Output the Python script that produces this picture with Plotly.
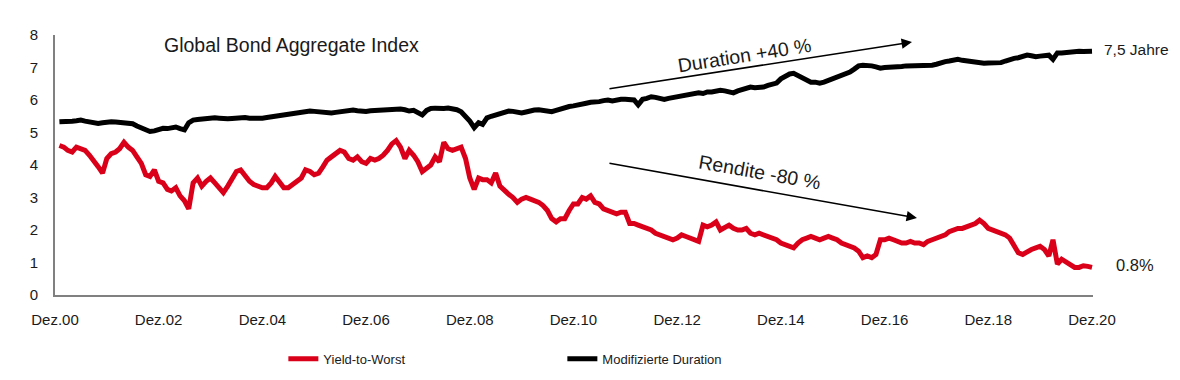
import pandas as pd
import plotly.graph_objects as go

# Monthly values, Jan 2001 .. Dec 2020
yield_to_worst = [
    4.6, 4.55, 4.45, 4.4, 4.55, 4.5, 4.45, 4.3, 4.15, 3.95, 3.75, 4.2,
    4.35, 4.4, 4.5, 4.7, 4.55, 4.45, 4.25, 4.05, 3.7, 3.65, 3.85, 3.5,
    3.45, 3.25, 3.2, 3.3, 3.05, 2.9, 2.65, 3.45, 3.6, 3.35, 3.5, 3.6,
    3.45, 3.3, 3.15, 3.35, 3.55, 3.8, 3.85, 3.65, 3.5, 3.4, 3.35, 3.3,
    3.3, 3.45, 3.65, 3.45, 3.3, 3.3, 3.4, 3.5, 3.6, 3.85, 3.8, 3.7,
    3.75, 3.95, 4.15, 4.25, 4.35, 4.45, 4.4, 4.2, 4.15, 4.25, 4.1, 4.05,
    4.2, 4.15, 4.2, 4.3, 4.45, 4.65, 4.75, 4.55, 4.2, 4.45, 4.3, 4.1,
    3.8, 3.9, 4.0, 4.25, 4.1, 4.7, 4.5, 4.45, 4.5, 4.55, 4.2, 3.6,
    3.25, 3.6, 3.55, 3.55, 3.45, 3.75, 3.35, 3.2, 3.1, 3.0, 2.85, 2.95,
    3.0, 2.95, 2.9, 2.85, 2.75, 2.6, 2.35, 2.25, 2.35, 2.35, 2.6, 2.8,
    2.8, 3.0, 2.95, 3.05, 2.85, 2.8, 2.65, 2.6, 2.55, 2.5, 2.55, 2.55,
    2.2, 2.2, 2.15, 2.1, 2.05, 2.0, 1.9, 1.85, 1.8, 1.75, 1.7, 1.75,
    1.85, 1.8, 1.75, 1.7, 1.65, 2.15, 2.1, 2.15, 2.25, 2.0, 2.1, 2.15,
    2.05, 2.0, 2.0, 2.05, 1.9, 1.85, 1.9, 1.85, 1.8, 1.75, 1.7, 1.6,
    1.55, 1.5, 1.45, 1.6, 1.7, 1.75, 1.8, 1.75, 1.7, 1.75, 1.8, 1.75,
    1.7, 1.6, 1.55, 1.5, 1.45, 1.35, 1.15, 1.2, 1.15, 1.25, 1.7, 1.7,
    1.75, 1.7, 1.65, 1.6, 1.6, 1.65, 1.6, 1.6, 1.55, 1.65, 1.7, 1.75,
    1.8, 1.85, 1.95, 2.0, 2.05, 2.05, 2.1, 2.15, 2.2, 2.3, 2.2, 2.05,
    2.0, 1.95, 1.9, 1.85, 1.75, 1.5, 1.3, 1.25, 1.35, 1.4, 1.45, 1.5,
    1.4, 1.2, 1.7, 0.95, 1.1, 1.0, 0.95, 0.85, 0.85, 0.9, 0.88, 0.85,
]

modified_duration = [
    5.33, 5.35, 5.33, 5.35, 5.36, 5.38, 5.35, 5.33, 5.3, 5.28, 5.3, 5.32,
    5.33, 5.32, 5.3, 5.3, 5.28, 5.27, 5.2, 5.13, 5.08, 5.03, 5.05, 5.1,
    5.13, 5.12, 5.15, 5.17, 5.12, 5.08, 5.3, 5.38, 5.4, 5.42, 5.42, 5.43,
    5.45, 5.44, 5.42, 5.42, 5.43, 5.45, 5.47, 5.46, 5.44, 5.43, 5.42, 5.44,
    5.46, 5.48, 5.5, 5.52, 5.55, 5.58, 5.6, 5.6, 5.62, 5.63, 5.66, 5.65,
    5.63, 5.62, 5.6, 5.6, 5.62, 5.64, 5.66, 5.68, 5.69, 5.67, 5.64, 5.65,
    5.67, 5.68, 5.69, 5.69, 5.7, 5.72, 5.74, 5.72, 5.7, 5.66, 5.68, 5.62,
    5.54, 5.68, 5.74, 5.75, 5.73, 5.74, 5.75, 5.74, 5.7, 5.64, 5.5, 5.35,
    5.15, 5.3, 5.25, 5.45, 5.5, 5.55, 5.6, 5.62, 5.66, 5.65, 5.62, 5.6,
    5.63, 5.67, 5.69, 5.7, 5.67, 5.65, 5.64, 5.68, 5.73, 5.78, 5.8, 5.82,
    5.86, 5.88, 5.9, 5.93, 5.93, 5.95, 5.98, 6.0, 5.97, 6.0, 6.02, 6.02,
    6.0, 6.0, 5.85, 6.02, 6.05, 6.1, 6.08, 6.05, 6.02, 6.05, 6.08, 6.1,
    6.12, 6.15, 6.18, 6.2, 6.22, 6.2, 6.25, 6.25, 6.27, 6.3, 6.28, 6.25,
    6.22, 6.28, 6.32, 6.36, 6.4, 6.38, 6.38, 6.4, 6.45, 6.5, 6.52, 6.65,
    6.72, 6.8, 6.82, 6.75, 6.68, 6.6, 6.55, 6.55, 6.52, 6.55, 6.6, 6.65,
    6.7, 6.75, 6.8, 6.86, 6.95, 7.05, 7.07, 7.07, 7.05, 7.02, 6.98, 7.0,
    7.0, 7.02, 7.02, 7.03, 7.05, 7.05, 7.05, 7.06, 7.07, 7.07, 7.07, 7.1,
    7.15, 7.18, 7.2, 7.23, 7.25, 7.22, 7.2, 7.17, 7.15, 7.13, 7.13, 7.14,
    7.15, 7.15, 7.15, 7.2, 7.25, 7.28, 7.3, 7.33, 7.38, 7.36, 7.33, 7.35,
    7.38, 7.38, 7.25, 7.45, 7.45, 7.47, 7.48, 7.48, 7.5, 7.49, 7.5, 7.5,
]

dates = pd.date_range("2001-01-01", periods=len(yield_to_worst), freq="MS")

tick_years = list(range(2000, 2021, 2))
tick_labels = ["Dez.%02d" % (y % 100) for y in tick_years]
tick_dates = ["%d-12-01" % y for y in tick_years]

series_names = ["Yield-to-Worst", "Modifizierte Duration"]
series_colors = ["#DA0019", "#000000"]

FONT = "Arial, Liberation Sans, sans-serif"
TXT = "#1a1a1a"

fig = go.Figure()
for name, vals, col in zip(series_names, [yield_to_worst, modified_duration], series_colors):
    fig.add_trace(go.Scatter(x=dates, y=vals, mode="lines", name=name,
                             line=dict(color=col, width=5)))

# page body has an 8px margin, so the figure is sized 8px smaller
fig.update_layout(
    width=1172, height=372,
    margin=dict(l=47, r=87, t=27, b=85, autoexpand=False),
    plot_bgcolor="white", paper_bgcolor="white",
    font=dict(family=FONT, size=15, color=TXT),
    showlegend=True,
    legend=dict(orientation="h", x=0.220, xanchor="left", y=-0.245, yanchor="middle",
                entrywidth=234, entrywidthmode="pixels", itemwidth=30,
                font=dict(size=13, color=TXT, family=FONT), traceorder="normal"),
)
fig.update_xaxes(
    type="date", range=["2000-12-01", "2020-12-08"],
    tickmode="array", tickvals=tick_dates, ticktext=tick_labels,
    showline=True, linecolor="#808080", linewidth=2, showgrid=False, zeroline=False,
    ticks="", ticklabelstandoff=10, tickfont=dict(size=15, color=TXT),
)
fig.update_yaxes(
    range=[0, 8], dtick=1, showline=True, linecolor="#808080", linewidth=2,
    showgrid=False, zeroline=False, ticks="", ticklabelstandoff=12,
    tickfont=dict(size=15, color=TXT),
)

def text(x, y, s, size=15, angle=0, anchor="left"):
    fig.add_annotation(x=x, y=y, xref="paper", yref="paper", text=s, showarrow=False,
                       xanchor=anchor, yanchor="middle", textangle=angle,
                       font=dict(size=size, color=TXT, family=FONT))

text(0.103, 0.962, "Global Bond Aggregate Index", size=19.5)
text(0.6647, 0.923, "Duration +40 %", size=19.5, angle=-9, anchor="center")
text(0.679, 0.473, "Rendite -80 %", size=19.5, angle=10, anchor="center")
text(1.0087, 0.946, "7,5 Jahre", size=15.5)
text(1.0202, 0.115, "0.8%", size=16.5)

for hx, hy, ax, ay in [(0.8256, 0.973, -304, 47), (0.8304, 0.296, -309, -55)]:
    fig.add_annotation(x=hx, y=hy, xref="paper", yref="paper", ax=ax, ay=ay,
                       axref="pixel", ayref="pixel", text="", showarrow=True,
                       arrowhead=2, arrowsize=1.3, arrowwidth=1.6, arrowcolor="#000000")

fig.write_html("out.html")
